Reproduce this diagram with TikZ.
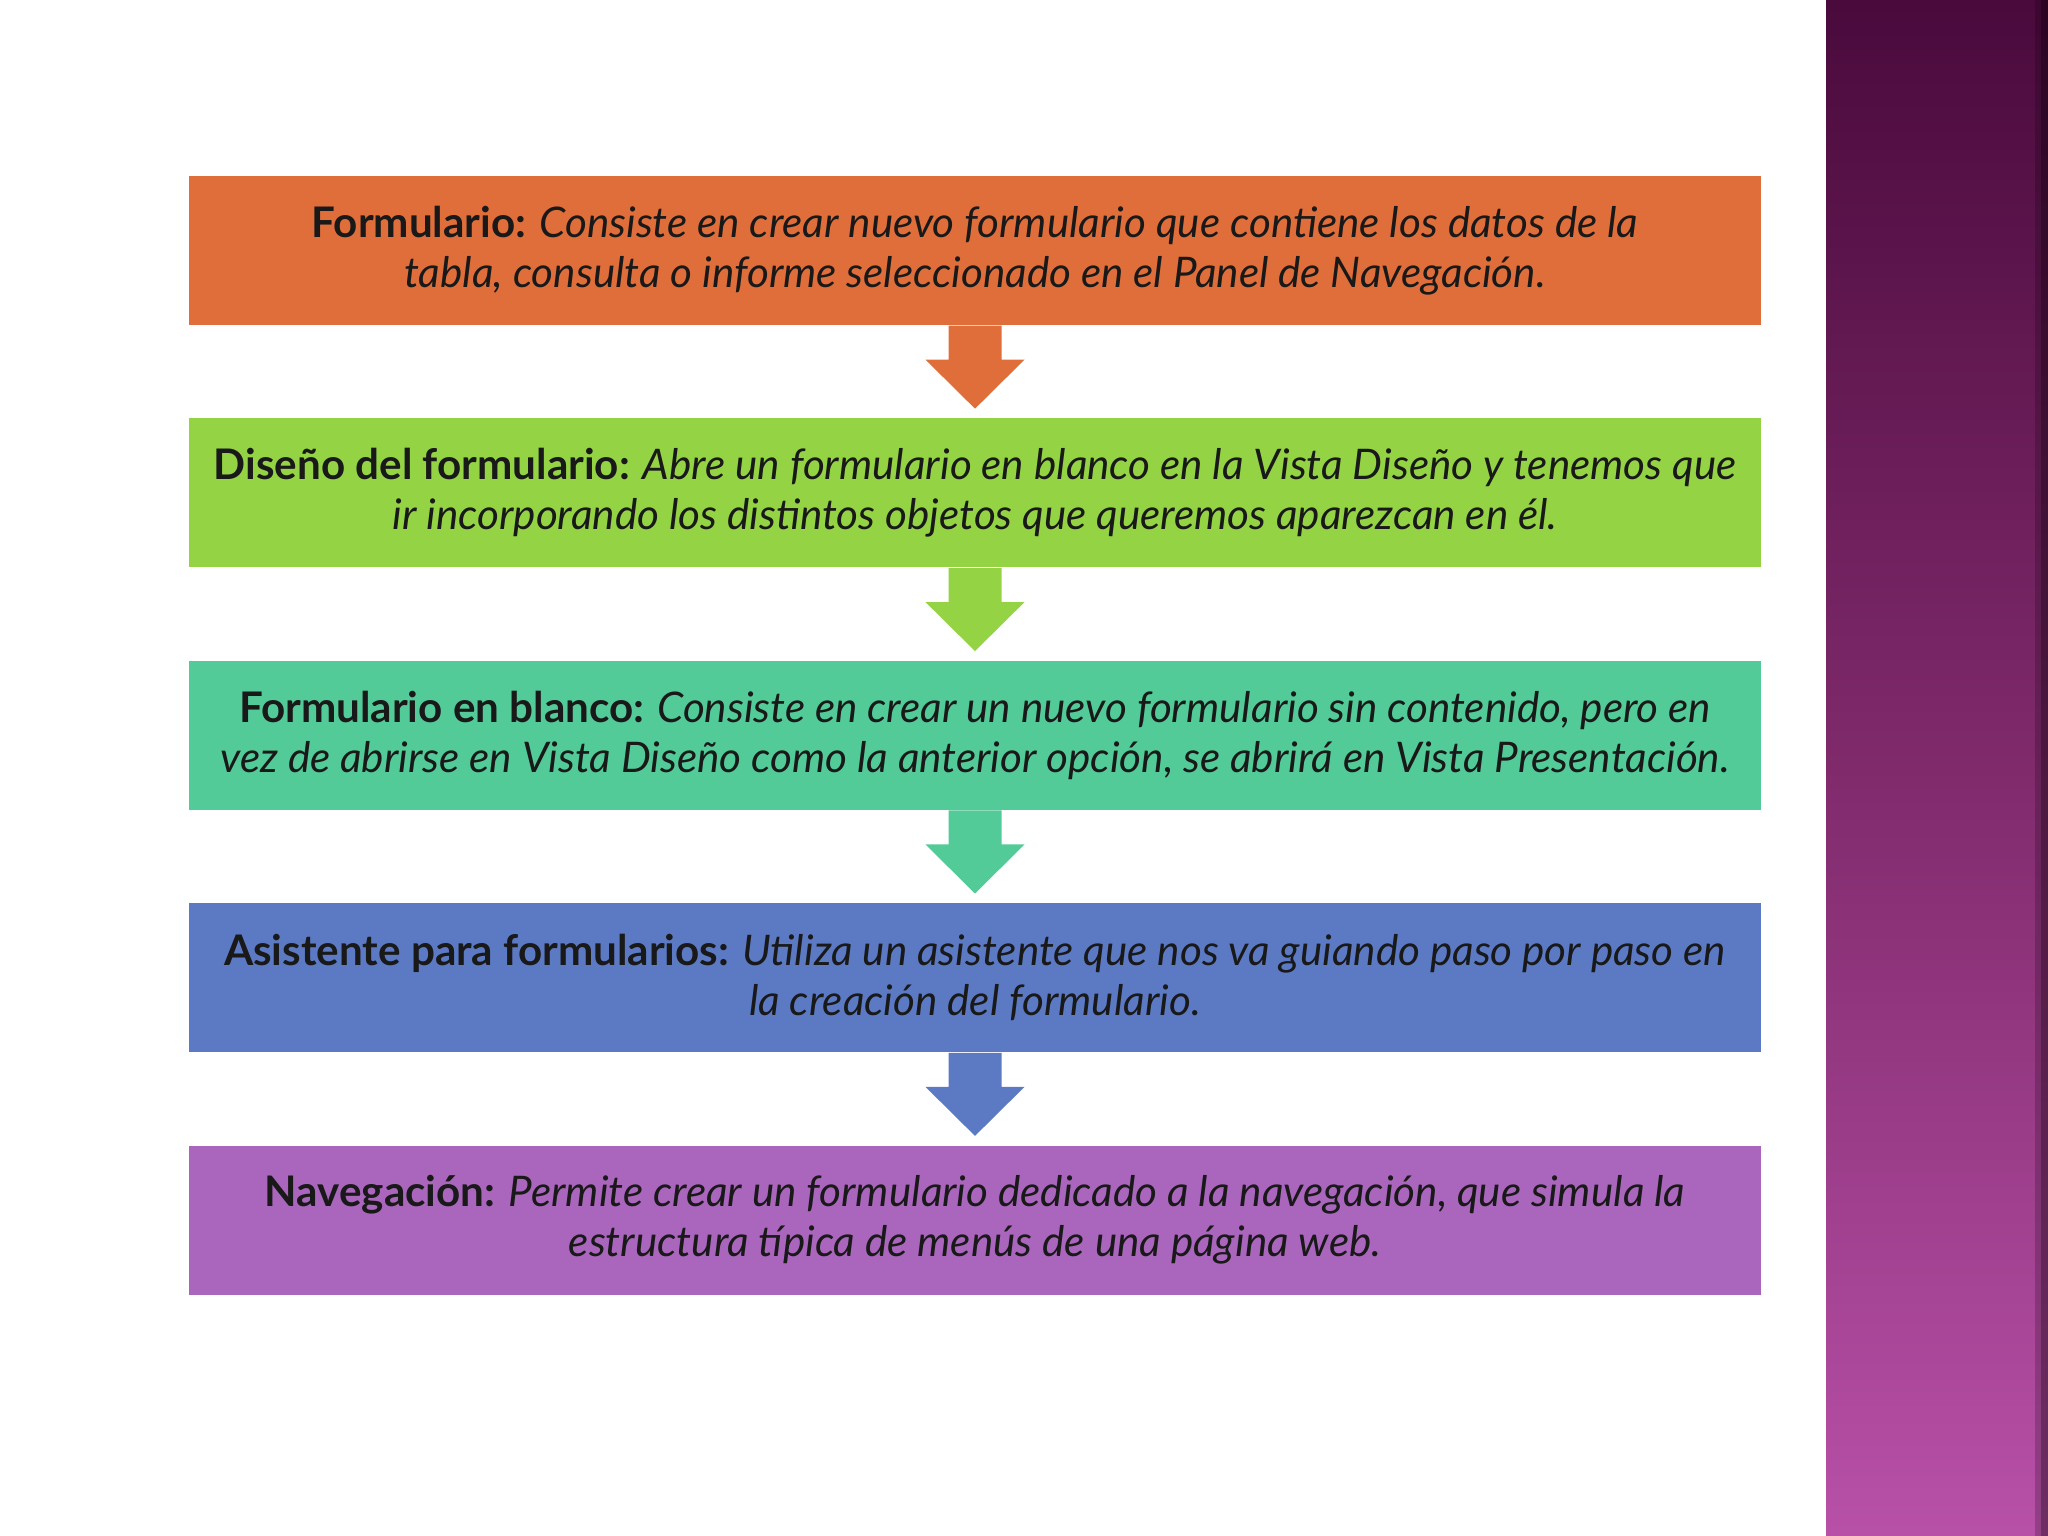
\documentclass[tikz,border=0pt]{standalone}
\usepackage{fontspec}
\setmainfont{Lato}
\usetikzlibrary{positioning,calc}
\definecolor{pasoA}{RGB}{224,110,58}
\definecolor{pasoB}{RGB}{148,212,68}
\definecolor{pasoC}{RGB}{82,203,152}
\definecolor{pasoD}{RGB}{92,122,196}
\definecolor{pasoE}{RGB}{170,102,188}
\definecolor{bandtop}{RGB}{74,10,60}
\definecolor{bandmid}{RGB}{128,42,108}
\definecolor{bandbot}{RGB}{184,80,168}
% flecha gruesa entre dos cajas
\newcommand{\bajada}[3]{%
  \fill[#3] ($(#1.south)+(-0.265,0)$) -- ++(0,-0.34) -- ++(-0.23,0)
    -- ($(#2.north)+(0,0.09)$) -- ($(#1.south)+(0.495,-0.34)$)
    -- ++(-0.23,0) -- ++(0,0.34) -- cycle;}

\begin{document}
\begin{tikzpicture}[
    paso/.style={minimum width=15.72cm, minimum height=1.49cm, inner sep=0pt,
      align=center, font=\fontsize{12}{14.2}\selectfont\itshape, text=black!90},
    node distance=0.92cm]
    \useasboundingbox (0,0) rectangle (20.48,15.36);
    % banda lateral
    \shade[top color=bandtop, bottom color=bandbot, middle color=bandmid] (18.26,0) rectangle (20.48,15.36);
    \fill[black, opacity=0.2] (20.35,0) rectangle (20.48,15.36);
    \fill[black, opacity=0.25] (20.41,0) rectangle (20.48,15.36);
    \node[paso, fill=pasoA] (form) at (9.75,12.855) {\textbf{\upshape Formulario:} Consiste en crear nuevo formulario que contiene los datos de la\\ tabla, consulta o informe seleccionado en el Panel de Navegación.};
    \node[paso, fill=pasoB, below=of form] (dis) {\textbf{\upshape Diseño del formulario:} Abre un formulario en blanco en la Vista Diseño y tenemos que\\ ir incorporando los distintos objetos que queremos aparezcan en él.};
    \node[paso, fill=pasoC, below=of dis] (blanco) {\textbf{\upshape Formulario en blanco:} Consiste en crear un nuevo formulario sin contenido, pero en\\ vez de abrirse en Vista Diseño como la anterior opción, se abrirá en Vista Presentación.};
    \node[paso, fill=pasoD, below=of blanco] (asis) {\textbf{\upshape Asistente para formularios:} Utiliza un asistente que nos va guiando paso por paso en\\ la creación del formulario.};
    \node[paso, fill=pasoE, below=of asis] (nav) {\textbf{\upshape Navegación:} Permite crear un formulario dedicado a la navegación, que simula la\\ estructura típica de menús de una página web.};
    \bajada{form}{dis}{pasoA}
    \bajada{dis}{blanco}{pasoB}
    \bajada{blanco}{asis}{pasoC}
    \bajada{asis}{nav}{pasoD}
\end{tikzpicture}
\end{document}
